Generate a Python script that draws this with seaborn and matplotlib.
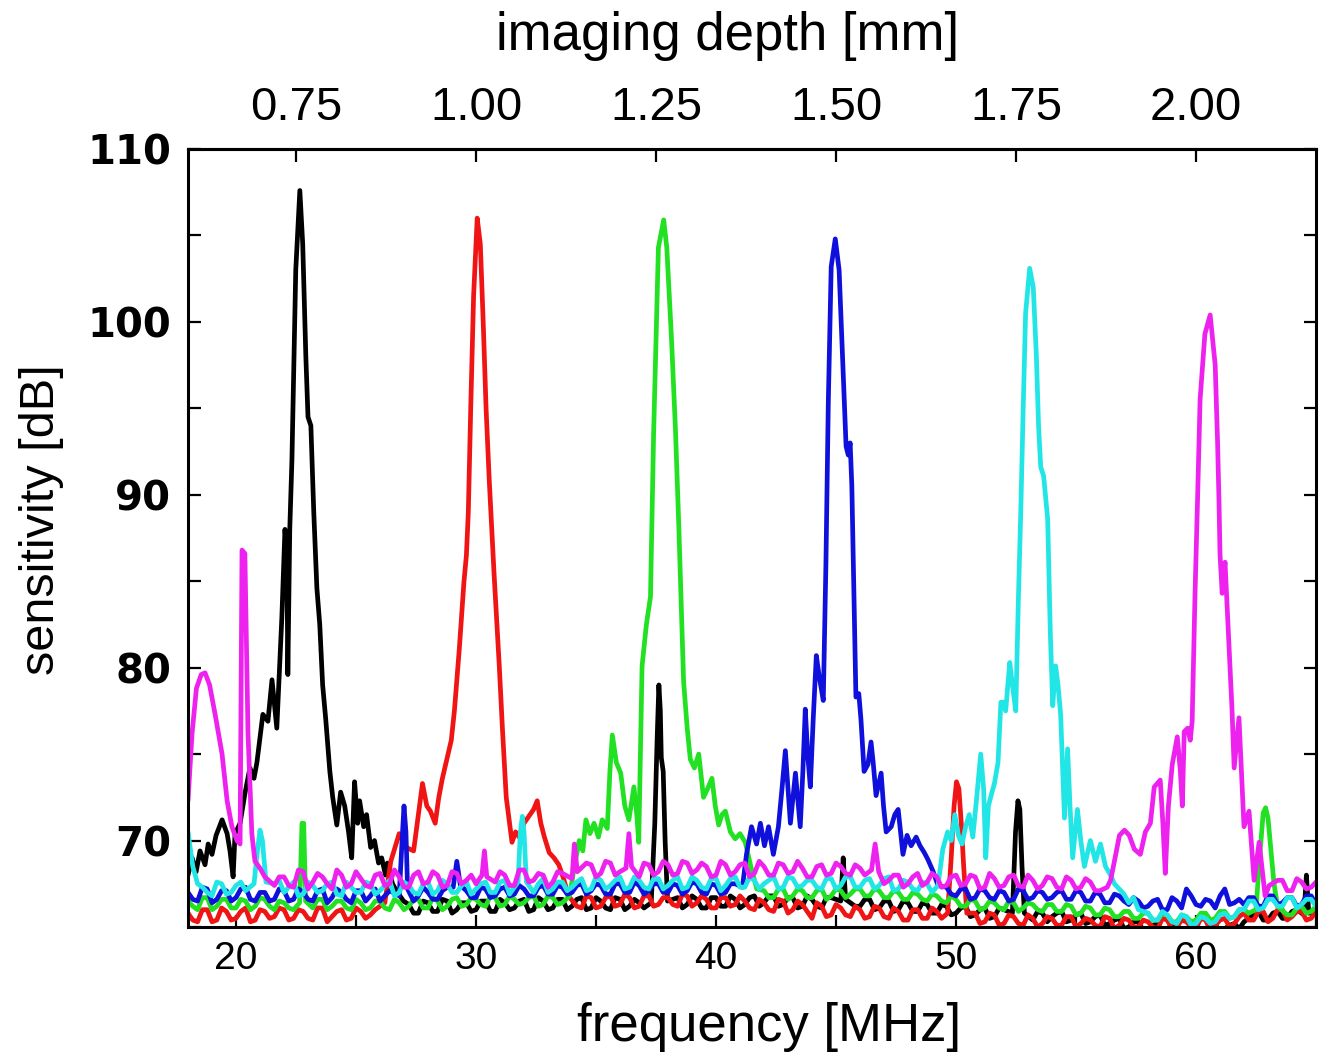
import numpy as np
import pandas as pd
import matplotlib
matplotlib.use("Agg")
import matplotlib.pyplot as plt
import seaborn as sns
from matplotlib.ticker import MultipleLocator, FormatStrFormatter, FixedLocator
from matplotlib import font_manager

# ---------------- data ----------------
# baseline sampling frequencies [MHz]
grid_f = [
    18.0, 18.4, 18.8, 19.2, 19.6, 20.0, 20.4, 20.8, 21.2, 21.6,
    22.0, 22.4, 22.8, 23.2, 23.6, 24.0, 24.4, 24.8, 25.2, 25.6,
    26.0, 26.4, 26.8, 27.2, 27.6, 28.0, 28.4, 28.8, 29.2, 29.6,
    30.0, 30.4, 30.8, 31.2, 31.6, 32.0, 32.4, 32.8, 33.2, 33.6,
    34.0, 34.4, 34.8, 35.2, 35.6, 36.0, 36.4, 36.8, 37.2, 37.6,
    38.0, 38.4, 38.8, 39.2, 39.6, 40.0, 40.4, 40.8, 41.2, 41.6,
    42.0, 42.4, 42.8, 43.2, 43.6, 44.0, 44.4, 44.8, 45.2, 45.6,
    46.0, 46.4, 46.8, 47.2, 47.6, 48.0, 48.4, 48.8, 49.2, 49.6,
    50.0, 50.4, 50.8, 51.2, 51.6, 52.0, 52.4, 52.8, 53.2, 53.6,
    54.0, 54.4, 54.8, 55.2, 55.6, 56.0, 56.4, 56.8, 57.2, 57.6,
    58.0, 58.4, 58.8, 59.2, 59.6, 60.0, 60.4, 60.8, 61.2, 61.6,
    62.0, 62.4, 62.8, 63.2, 63.6, 64.0, 64.4, 64.8, 65.2]
grid_f2 = [
    18.2, 18.6, 19.0, 19.4, 19.8, 20.2, 20.6, 21.0, 21.4, 21.8,
    22.2, 22.6, 23.0, 23.4, 23.8, 24.2, 24.6, 25.0, 25.4, 25.8,
    26.2, 26.6, 27.0, 27.4, 27.8, 28.2, 28.6, 29.0, 29.4, 29.8,
    30.2, 30.6, 31.0, 31.4, 31.8, 32.2, 32.6, 33.0, 33.4, 33.8,
    34.2, 34.6, 35.0, 35.4, 35.8, 36.2, 36.6, 37.0, 37.4, 37.8,
    38.2, 38.6, 39.0, 39.4, 39.8, 40.2, 40.6, 41.0, 41.4, 41.8,
    42.2, 42.6, 43.0, 43.4, 43.8, 44.2, 44.6, 45.0, 45.4, 45.8,
    46.2, 46.6, 47.0, 47.4, 47.8, 48.2, 48.6, 49.0, 49.4, 49.8,
    50.2, 50.6, 51.0, 51.4, 51.8, 52.2, 52.6, 53.0, 53.4, 53.8,
    54.2, 54.6, 55.0, 55.4, 55.8, 56.2, 56.6, 57.0, 57.4, 57.8,
    58.2, 58.6, 59.0, 59.4, 59.8, 60.2, 60.6, 61.0, 61.4, 61.8,
    62.2, 62.6, 63.0, 63.4, 63.8, 64.2, 64.6, 65.0]

# baseline noise levels [dB] on grid_f
black_base = [
    66.2, 65.8, 66.3, 65.9, 66.2, 65.8, 66.3, 65.9, 66.2, 65.8,
    66.3, 65.9, 66.2, 65.8, 66.3, 65.9, 66.2, 65.8, 66.3, 65.9,
    66.2, 65.8, 66.3, 66.3, 65.8, 66.4, 65.9, 66.5, 66.0, 66.4,
    66.0, 66.5, 65.9, 66.4, 66.1, 66.6, 66.0, 66.5, 66.1, 66.6,
    66.2, 66.7, 66.1, 66.5, 66.0, 66.6, 66.2, 66.4, 66.0, 66.6,
    66.2, 66.7, 66.3, 66.6, 66.1, 66.7, 66.2, 66.6, 66.3, 66.8,
    66.4, 66.8, 66.3, 66.7, 66.2, 66.6, 66.1, 66.7, 66.3, 66.6,
    66.2, 66.6, 66.1, 66.5, 66.0, 66.4, 65.9, 66.3, 65.8, 66.2,
    65.8, 66.2, 65.7, 66.1, 65.6, 66.0, 65.5, 65.9, 65.4, 65.8,
    65.6, 65.9, 65.4, 65.8, 65.3, 65.7, 65.2, 65.5, 65.0, 65.3,
    64.9, 65.2, 64.8, 65.1, 64.7, 65.0, 64.8, 65.1, 64.9, 65.2,
    65.3, 65.7, 65.4, 65.8, 65.5, 65.9, 65.6, 66.0, 65.7]
red_base = [
    65.8, 65.3, 66.0, 65.4, 65.9, 65.5, 66.1, 65.4, 65.9, 65.6,
    66.0, 65.5, 65.9, 65.4, 66.1, 65.6, 66.0, 65.5, 65.9, 65.7,
    66.0, 65.6, 66.2, 66.0, 66.0, 66.0, 66.0, 66.0, 66.0, 66.0,
    66.0, 66.0, 66.0, 66.0, 66.0, 66.0, 66.0, 66.0, 66.0, 66.3,
    66.6, 66.1, 66.7, 66.2, 66.8, 66.3, 66.7, 66.2, 66.8, 66.3,
    66.7, 66.2, 66.8, 66.4, 66.6, 66.1, 66.7, 66.3, 66.5, 66.0,
    66.4, 65.9, 66.5, 66.0, 66.3, 65.5, 66.2, 65.7, 66.1, 65.6,
    66.0, 65.6, 66.1, 65.5, 65.9, 65.4, 66.0, 65.5, 65.9, 65.6,
    65.9, 65.5, 65.8, 65.3, 65.7, 65.2, 65.6, 65.1, 65.5, 65.2,
    65.5, 65.1, 65.6, 65.2, 65.4, 65.0, 65.5, 65.1, 65.4, 65.0,
    65.3, 64.9, 65.4, 65.0, 65.3, 64.9, 65.4, 65.1, 65.5, 65.2,
    65.8, 65.4, 65.9, 65.5, 66.0, 65.6, 65.9, 65.5, 65.8]
green_base = [
    66.5, 66.0, 66.7, 66.2, 66.6, 66.1, 66.5, 66.2, 66.6, 66.0,
    66.4, 66.0, 66.5, 66.1, 66.6, 66.2, 66.5, 66.0, 66.4, 66.1,
    66.5, 66.0, 66.4, 66.2, 66.6, 66.1, 66.5, 66.2, 66.7, 66.3,
    66.6, 66.2, 66.7, 66.3, 66.6, 66.4, 66.8, 66.3, 66.7, 66.4,
    66.8, 66.4, 66.9, 66.5, 66.8, 66.5, 66.9, 66.6, 66.8, 66.5,
    66.9, 66.5, 66.8, 66.6, 66.9, 66.5, 67.0, 66.6, 66.9, 66.6,
    67.1, 66.7, 67.2, 66.8, 67.1, 66.7, 67.2, 66.8, 67.1, 66.9,
    67.2, 66.8, 67.1, 66.7, 67.0, 66.6, 66.9, 66.5, 66.8, 66.4,
    66.6, 66.2, 66.5, 66.1, 66.4, 66.0, 66.4, 66.1, 66.3, 65.9,
    66.3, 65.9, 66.2, 65.8, 66.1, 65.7, 66.0, 65.6, 65.9, 65.5,
    65.8, 65.4, 65.7, 65.3, 65.6, 65.4, 65.8, 65.5, 65.9, 65.6,
    66.0, 66.2, 66.0, 65.8, 66.1, 65.7, 66.2, 65.9, 66.1]
blue_base = [
    67.0, 66.5, 67.2, 66.6, 67.1, 66.7, 67.3, 66.5, 67.0, 66.6,
    67.1, 66.6, 67.0, 66.5, 67.2, 66.7, 67.0, 66.4, 67.1, 66.8,
    66.5, 67.1, 66.7, 67.2, 66.8, 67.0, 66.6, 67.3, 66.8, 67.1,
    66.7, 67.2, 66.8, 67.3, 66.9, 67.2, 66.8, 67.4, 66.9, 67.3,
    67.0, 67.5, 67.1, 67.4, 66.9, 67.5, 67.0, 67.4, 67.1, 67.5,
    67.0, 67.4, 67.1, 67.5, 66.9, 67.4, 67.0, 67.5, 67.1, 67.4,
    67.0, 67.4, 67.0, 67.5, 67.1, 67.4, 67.0, 67.4, 67.1, 67.5,
    67.0, 67.4, 67.0, 67.5, 67.0, 67.3, 66.9, 67.4, 67.0, 67.3,
    66.8, 67.2, 66.7, 67.1, 66.6, 67.0, 66.6, 67.1, 66.7, 67.0,
    66.7, 67.1, 66.6, 67.0, 66.5, 66.9, 66.4, 66.8, 66.3, 66.5,
    66.2, 66.6, 66.0, 66.5, 67.2, 66.3, 66.6, 66.1, 67.2, 66.4,
    66.3, 66.7, 66.2, 66.8, 66.4, 66.7, 66.3, 66.8, 66.5]
cyan_base = [
    70.5, 67.5, 67.0, 67.6, 66.9, 67.4, 67.1, 67.7, 67.0, 67.5,
    67.0, 67.6, 66.9, 67.4, 67.1, 67.6, 66.8, 67.3, 67.0, 67.5,
    67.1, 67.7, 67.0, 67.4, 66.9, 67.6, 67.1, 67.5, 67.0, 67.6,
    67.2, 67.6, 67.0, 67.7, 67.1, 67.5, 67.0, 67.8, 67.2, 67.6,
    67.3, 67.8, 67.2, 67.7, 67.4, 67.9, 67.3, 67.7, 67.2, 67.8,
    67.4, 67.9, 67.3, 67.7, 67.2, 67.8, 67.4, 67.9, 67.3, 67.7,
    67.5, 67.9, 67.3, 67.8, 67.4, 67.7, 67.2, 67.8, 67.4, 67.9,
    67.3, 67.8, 67.4, 67.9, 67.2, 67.6, 67.1, 67.5, 67.2, 67.6,
    67.0, 67.5, 67.1, 67.4, 67.0, 67.3, 67.0, 67.4, 67.1, 67.3,
    67.0, 67.3, 66.9, 67.2, 67.0, 67.3, 67.1, 67.2, 66.4, 66.0,
    65.8, 65.4, 65.7, 65.2, 65.6, 65.2, 65.5, 65.3, 65.8, 65.6,
    66.0, 66.5, 66.1, 66.6, 66.2, 66.7, 66.3, 66.6, 66.4]
magenta_base = [
    68.0, 68.3, 67.9, 68.4, 68.0, 67.8, 68.2, 67.5, 68.1, 67.4,
    67.9, 67.3, 68.2, 67.6, 67.9, 67.2, 68.0, 67.5, 67.8, 67.3,
    68.1, 67.5, 67.9, 67.3, 68.2, 67.6, 68.0, 67.4, 68.1, 67.7,
    67.5, 68.2, 67.6, 68.0, 67.4, 68.3, 67.7, 68.0, 67.6, 68.1,
    68.5, 68.0, 68.6, 68.1, 68.7, 68.2, 68.5, 67.9, 68.6, 68.2,
    68.6, 68.1, 68.7, 68.3, 68.5, 68.0, 68.6, 68.2, 68.7, 68.1,
    68.5, 68.0, 68.6, 68.2, 68.4, 67.9, 68.6, 68.1, 68.5, 68.0,
    68.4, 68.0, 68.3, 67.7, 68.0, 67.5, 68.1, 67.6, 67.9, 67.4,
    68.0, 67.5, 67.9, 67.3, 67.8, 67.4, 68.0, 67.3, 67.7, 67.4,
    67.8, 67.2, 67.7, 67.3, 67.6, 67.1, 67.5, 67.0, 67.4, 67.0,
    67.3, 67.0, 67.4, 67.1, 67.2, 67.0, 67.3, 67.1, 67.2, 67.0,
    67.5, 67.0, 67.6, 67.2, 67.7, 67.1, 67.6, 67.3, 67.5]

# baseline noise levels [dB] on grid_f2
black_base2 = [
    66.0, 66.1, 66.0, 66.1, 66.0, 66.1, 66.0, 66.1, 66.0, 66.1,
    66.0, 66.1, 66.0, 66.1, 66.0, 66.1, 66.0, 66.1, 66.0, 66.1,
    66.0, 66.1, 66.0, 65.8, 66.5, 65.9, 66.6, 65.8, 66.4, 65.9,
    66.5, 65.9, 66.6, 66.0, 66.5, 65.9, 66.7, 66.0, 66.6, 66.0,
    66.6, 66.0, 66.7, 66.1, 66.7, 66.0, 66.6, 66.1, 66.7, 66.1,
    66.6, 66.1, 66.8, 66.1, 66.7, 66.2, 66.8, 66.1, 66.7, 66.2,
    66.8, 66.2, 66.7, 66.1, 66.8, 66.2, 66.7, 66.1, 66.8, 66.2,
    66.6, 66.0, 66.5, 65.9, 66.5, 65.9, 66.4, 65.8, 66.3, 65.7,
    66.1, 65.6, 66.0, 65.5, 66.1, 65.4, 65.9, 65.4, 65.9, 65.3,
    65.8, 65.3, 65.7, 65.2, 65.6, 65.1, 65.4, 64.9, 65.3, 64.8,
    65.1, 64.7, 65.2, 64.8, 65.1, 64.7, 65.2, 64.8, 65.1, 64.9,
    65.5, 65.9, 65.4, 65.9, 65.5, 66.0, 65.6, 65.8]
red_base2 = [
    65.4, 66.0, 65.3, 66.1, 65.4, 65.9, 65.3, 66.0, 65.5, 66.1,
    65.4, 66.0, 65.5, 66.1, 65.3, 65.9, 65.4, 66.1, 65.5, 66.0,
    66.0, 66.0, 66.0, 66.0, 66.0, 66.0, 66.0, 66.0, 66.0, 66.0,
    66.0, 66.0, 66.0, 66.0, 66.0, 66.0, 66.0, 66.0, 66.0, 66.0,
    66.2, 66.8, 66.1, 66.7, 66.2, 66.9, 66.1, 66.8, 66.2, 66.7,
    66.3, 66.9, 66.2, 66.8, 66.1, 66.7, 66.2, 66.8, 66.1, 66.6,
    66.0, 66.6, 65.8, 66.5, 65.9, 66.4, 65.6, 66.3, 65.7, 66.2,
    65.5, 66.2, 65.6, 66.1, 65.4, 66.0, 65.5, 66.1, 65.5, 66.0,
    65.4, 65.9, 65.2, 65.8, 65.1, 65.7, 65.2, 65.7, 65.0, 65.6,
    65.1, 65.6, 65.0, 65.5, 65.1, 65.6, 64.9, 65.5, 65.0, 65.4,
    65.0, 65.5, 64.9, 65.4, 65.0, 65.5, 64.8, 65.4, 65.0, 65.6,
    65.4, 65.9, 65.3, 66.0, 65.4, 65.9, 65.4, 65.9]
green_base2 = [
    66.2, 66.7, 66.0, 66.6, 66.1, 66.6, 66.0, 66.7, 66.2, 66.5,
    66.1, 66.6, 66.0, 66.6, 66.0, 66.5, 66.1, 66.6, 66.0, 66.5,
    66.1, 66.6, 66.0, 66.6, 66.1, 66.7, 66.0, 66.6, 66.2, 66.7,
    66.3, 66.8, 66.2, 66.8, 66.3, 66.7, 66.2, 66.8, 66.3, 66.8,
    66.4, 66.9, 66.3, 66.8, 66.4, 66.9, 66.3, 66.9, 66.4, 66.8,
    66.4, 66.9, 66.5, 66.9, 66.4, 67.0, 66.5, 66.9, 66.5, 67.0,
    66.7, 67.2, 66.6, 67.2, 66.7, 67.1, 66.6, 67.2, 66.7, 67.2,
    66.8, 67.2, 66.7, 67.1, 66.6, 67.0, 66.6, 66.9, 66.5, 66.8,
    66.2, 66.6, 66.0, 66.5, 66.1, 66.5, 65.9, 66.4, 66.0, 66.3,
    65.9, 66.3, 65.7, 66.2, 65.7, 66.1, 65.6, 65.9, 65.5, 65.8,
    65.4, 65.8, 65.3, 65.7, 65.3, 65.8, 65.4, 65.9, 65.5, 66.0,
    65.8, 66.1, 65.7, 66.2, 65.7, 66.1, 65.8, 66.2]
blue_base2 = [
    66.6, 67.3, 66.4, 67.1, 66.5, 67.2, 66.6, 67.0, 66.5, 67.2,
    66.5, 67.2, 66.6, 67.1, 66.4, 67.2, 66.6, 67.1, 66.5, 67.2,
    66.8, 66.5, 67.2, 66.5, 67.3, 66.6, 67.1, 66.6, 67.2, 66.7,
    67.3, 66.7, 67.2, 66.8, 67.4, 66.8, 67.3, 66.9, 67.4, 66.9,
    67.4, 66.9, 67.5, 66.9, 67.5, 67.0, 67.6, 66.9, 67.5, 67.0,
    67.5, 66.9, 67.6, 67.0, 67.5, 66.9, 67.5, 67.0, 67.6, 67.0,
    67.5, 66.9, 67.5, 67.0, 67.6, 66.9, 67.5, 67.0, 67.5, 66.9,
    67.5, 67.0, 67.4, 66.9, 67.5, 67.0, 67.4, 66.9, 67.4, 66.9,
    67.2, 66.6, 67.2, 66.7, 67.1, 66.5, 67.2, 66.6, 67.1, 66.6,
    67.0, 66.6, 67.1, 66.5, 67.0, 66.4, 66.9, 66.5, 66.7, 66.1,
    66.5, 66.0, 66.7, 66.1, 66.8, 66.2, 66.5, 66.8, 66.3, 66.6,
    66.7, 66.2, 66.8, 66.3, 66.7, 66.2, 66.8, 66.3]
cyan_base2 = [
    68.5, 67.3, 66.8, 67.5, 67.0, 67.6, 66.8, 67.4, 66.9, 67.7,
    67.3, 66.8, 67.6, 67.0, 67.5, 66.9, 67.6, 67.0, 67.6, 66.9,
    67.4, 66.8, 67.6, 67.0, 67.5, 66.9, 67.7, 67.0, 67.4, 66.9,
    67.5, 67.0, 67.6, 66.9, 67.7, 67.1, 67.5, 67.0, 67.6, 67.1,
    67.6, 67.1, 67.9, 67.2, 67.7, 67.2, 67.9, 67.3, 67.8, 67.2,
    67.7, 67.2, 67.9, 67.3, 67.8, 67.1, 67.8, 67.3, 67.9, 67.2,
    67.7, 67.2, 67.9, 67.3, 67.7, 67.3, 67.8, 67.2, 67.9, 67.3,
    67.7, 67.2, 67.8, 67.1, 67.7, 67.2, 67.6, 67.0, 67.5, 67.1,
    67.3, 67.0, 67.5, 67.0, 67.3, 67.1, 67.4, 67.0, 67.3, 67.0,
    67.4, 67.0, 67.3, 66.8, 67.2, 67.0, 67.4, 66.9, 66.7, 65.9,
    65.4, 65.9, 65.3, 65.7, 65.1, 65.6, 65.2, 65.7, 65.5, 66.0,
    66.5, 66.0, 66.6, 66.2, 66.7, 66.1, 66.6, 66.2]
magenta_base2 = [
    68.4, 67.6, 68.5, 67.7, 68.3, 67.9, 68.5, 67.6, 68.2, 67.9,
    67.4, 68.3, 67.2, 68.1, 67.5, 68.3, 67.3, 68.2, 67.4, 68.0,
    67.4, 68.3, 67.3, 68.0, 67.5, 68.2, 67.3, 68.2, 67.5, 68.0,
    68.1, 67.3, 68.2, 67.4, 68.3, 67.6, 68.1, 67.3, 68.2, 67.6,
    68.0, 68.7, 67.9, 68.8, 68.0, 68.6, 68.0, 68.7, 68.0, 68.8,
    68.0, 68.8, 68.1, 68.7, 67.9, 68.8, 68.0, 68.6, 67.9, 68.8,
    68.0, 68.7, 68.1, 68.8, 67.9, 68.5, 68.0, 68.7, 68.1, 68.6,
    68.0, 68.6, 67.5, 68.0, 67.3, 67.9, 67.4, 68.1, 67.3, 67.9,
    67.4, 68.0, 67.2, 68.1, 67.3, 67.9, 67.4, 68.0, 67.2, 67.9,
    67.3, 67.9, 67.2, 67.8, 67.1, 67.7, 67.2, 67.6, 67.0, 67.5,
    67.0, 67.5, 67.0, 67.4, 67.1, 67.5, 67.0, 67.4, 67.1, 67.3,
    67.3, 67.6, 67.0, 67.7, 67.1, 67.8, 67.2, 67.6]

# resonance peaks and spikes (frequency [MHz], sensitivity [dB])
black_pk_f = [18.0, 18.17, 18.34, 18.5, 18.71, 18.84, 19.0, 19.17, 19.42, 19.63,
              19.75, 19.88, 19.96, 20.17, 20.37, 20.58, 20.75, 20.87, 21.12, 21.33,
              21.5, 21.7, 21.91, 22.04, 22.12, 22.16, 22.24, 22.33, 22.49, 22.66,
              22.78, 22.91, 23.0, 23.12, 23.24, 23.37, 23.49, 23.61, 23.74, 23.91,
              24.03, 24.2, 24.36, 24.53, 24.69, 24.82, 24.94, 25.07, 25.15, 25.32,
              25.44, 25.61, 25.77, 25.94, 26.07, 26.23, 26.31, 26.52, 26.73, 26.98,
              37.3, 37.45, 37.55, 37.62, 37.68, 37.72, 37.8, 37.88, 37.98,
              45.2, 45.3, 45.4,
              52.35, 52.48, 52.58, 52.66, 52.75, 52.85,
              64.5, 64.6, 64.7]
black_pk_db = [68.0, 69.0, 68.2, 69.4, 68.6, 69.8, 69.2, 70.3, 71.2, 70.4,
               69.4, 67.9, 70.4, 71.0, 72.7, 74.2, 73.6, 74.5, 77.3, 76.9,
               79.3, 76.5, 82.9, 88.0, 86.5, 79.6, 88.0, 92.0, 103.0, 107.6,
               104.5, 98.0, 94.5, 94.0, 89.0, 84.6, 82.5, 79.0, 77.0, 74.0,
               72.5, 70.9, 72.8, 72.0, 70.5, 69.0, 73.4, 71.0, 72.3, 70.8,
               71.5, 69.6, 70.0, 68.7, 69.0, 68.0, 68.7, 67.5, 67.0, 66.5,
               66.4, 71.0, 76.0, 79.0, 77.5, 74.8, 74.0, 70.0, 66.5,
               66.5, 69.0, 66.6,
               65.8, 70.5, 72.3, 71.8, 68.5, 65.8,
               65.7, 68.0, 65.8]

red_pk_f = [26.2, 26.45, 26.8, 27.1, 27.4, 27.6, 27.77, 27.95, 28.1, 28.3,
            28.45, 28.6, 28.8, 28.97, 29.1, 29.3, 29.5, 29.6, 29.68, 29.78,
            29.9, 30.05, 30.18, 30.3, 30.42, 30.55, 30.75, 30.97, 31.1, 31.26,
            31.38, 31.5, 31.65, 31.8, 32.0, 32.2, 32.4, 32.55, 32.7, 32.85,
            33.05, 33.25, 33.45, 33.65, 33.85,
            49.65, 49.8, 49.92, 50.02, 50.12, 50.22, 50.32, 50.45]
red_pk_db = [66.4, 68.8, 70.4, 69.6, 69.4, 71.5, 73.3, 72.0, 71.7, 71.0,
             72.5, 73.6, 74.8, 75.8, 77.5, 81.0, 85.0, 86.5, 89.0, 95.0,
             101.5, 106.0, 104.5, 100.0, 95.0, 90.9, 85.5, 80.1, 76.5, 72.5,
             71.2, 69.9, 70.5, 70.2, 71.0, 71.4, 71.8, 72.3, 71.0, 70.2,
             69.3, 69.0, 68.6, 67.8, 66.8,
             65.8, 69.0, 72.0, 73.4, 73.0, 71.0, 68.5, 65.8]

green_pk_f = [22.65, 22.75, 22.82, 22.9,
              33.9, 34.1, 34.3, 34.45, 34.58, 34.75, 34.92, 35.1, 35.26, 35.47,
              35.58, 35.68, 35.85, 36.03, 36.2, 36.37, 36.58, 36.7, 36.78, 36.92,
              37.1, 37.27, 37.4, 37.6, 37.82, 37.95, 38.15, 38.31, 38.45, 38.65,
              38.8, 38.93, 39.1, 39.28, 39.48, 39.65, 39.83, 39.97, 40.11, 40.25,
              40.39, 40.6, 40.8, 41.0, 41.22, 41.45, 41.7,
              62.5, 62.65, 62.8, 62.9, 63.0, 63.12, 63.25, 63.4]
green_pk_db = [66.4, 71.0, 71.0, 66.5,
               66.8, 68.5, 70.0, 69.4, 71.2, 70.4, 71.0, 70.2, 71.2, 70.7,
               74.0, 76.1, 74.5, 73.9, 72.0, 71.2, 73.1, 71.5, 69.9, 80.1,
               82.5, 84.1, 93.5, 104.3, 105.9, 104.3, 98.9, 93.8, 88.2, 79.2,
               76.5, 74.7, 74.2, 75.0, 72.5, 73.0, 73.6, 72.0, 70.9, 71.5,
               71.7, 70.5, 70.1, 70.4, 69.9, 68.5, 67.2,
               66.0, 69.0, 71.6, 71.9, 71.3, 69.5, 67.5, 66.2]

blue_pk_f = [26.8, 26.92, 27.0, 27.08, 27.15,
             29.05, 29.2, 29.35,
             41.1, 41.27, 41.48, 41.69, 41.85, 42.02, 42.19, 42.39, 42.6, 42.75,
             42.89, 43.0, 43.1, 43.31, 43.51, 43.62, 43.72, 43.82, 43.93, 44.05,
             44.18, 44.3, 44.47, 44.58, 44.68, 44.8, 44.97, 45.13, 45.3, 45.42,
             45.51, 45.59, 45.66, 45.75, 45.83, 45.95, 46.04, 46.17, 46.33, 46.46,
             46.55, 46.67, 46.88, 46.98, 47.09, 47.3, 47.45, 47.59, 47.79, 47.96,
             48.13, 48.34, 48.5, 48.68, 48.83, 49.05, 49.25]
blue_pk_db = [66.8, 70.0, 72.0, 70.5, 67.2,
              67.3, 68.8, 67.4,
              67.3, 69.2, 70.8, 69.8, 71.0, 69.7, 70.8, 69.2, 70.8, 73.0,
              75.2, 73.0, 71.0, 73.9, 70.8, 74.0, 77.6, 75.0, 73.1, 77.0,
              80.7, 79.5, 78.1, 86.0, 95.4, 103.2, 104.8, 103.0, 97.0, 92.8,
              92.3, 93.0, 90.5, 84.0, 78.3, 78.5, 77.0, 74.0, 74.4, 75.7,
              74.5, 72.6, 73.9, 72.0, 70.5, 70.8, 71.5, 71.8, 69.2, 70.3,
              69.7, 70.2, 69.7, 69.3, 68.9, 68.2, 67.4]

cyan_pk_f = [20.75, 20.9, 21.0, 21.1, 21.25,
             31.75, 31.85, 31.93, 32.0, 32.1,
             49.25, 49.45, 49.65, 49.8, 49.95, 50.1, 50.25, 50.4, 50.55, 50.7,
             50.85, 51.03, 51.15, 51.24, 51.35, 51.5, 51.6, 51.75, 51.87, 52.0,
             52.07, 52.24, 52.35, 52.49, 52.6, 52.7, 52.8, 52.9, 53.07, 53.22,
             53.35, 53.44, 53.53, 53.65, 53.82, 53.93, 54.03, 54.15, 54.25, 54.36,
             54.45, 54.52, 54.65, 54.75, 54.86, 55.06, 55.2, 55.35, 55.6, 55.81,
             56.02, 56.23, 56.44, 56.6]
cyan_pk_db = [67.5, 69.5, 70.6, 70.0, 67.6,
              67.6, 70.5, 71.4, 70.5, 67.6,
              67.4, 69.5, 70.5, 70.0, 71.5, 70.3, 69.8, 70.8, 71.5, 70.2,
              72.3, 75.0, 73.0, 69.0, 72.0, 72.8, 73.3, 74.5, 78.0, 78.0,
              77.5, 80.3, 79.0, 77.5, 84.0, 89.1, 95.0, 100.5, 103.1, 102.0,
              98.0, 94.0, 91.6, 91.1, 88.6, 82.0, 77.8, 80.1, 79.0, 77.3,
              74.0, 71.3, 75.3, 72.0, 69.0, 71.8, 70.0, 68.5, 70.0, 68.8,
              69.8, 68.5, 68.0, 67.5]

magenta_pk_f = [18.0, 18.17, 18.35, 18.55, 18.71, 18.9, 19.13, 19.42, 19.63, 19.83,
                20.04, 20.17, 20.25, 20.37, 20.5, 20.66, 20.79, 21.0, 21.2,
                30.25, 30.35, 30.45,
                34.0, 34.1, 34.22,
                36.25, 36.37, 36.48,
                46.48, 46.63, 46.78,
                56.3, 56.44, 56.6, 56.81, 57.02, 57.22, 57.43, 57.68, 57.89, 58.1,
                58.26, 58.51, 58.62, 58.72, 58.85, 59.01, 59.22, 59.35, 59.43, 59.51,
                59.65, 59.76, 59.84, 59.96, 60.07, 60.17, 60.37, 60.59, 60.8, 60.9,
                60.96, 61.0, 61.09, 61.21, 61.35, 61.5, 61.59, 61.79, 62.0, 62.21,
                62.42, 62.63, 62.88, 63.05]
magenta_pk_db = [72.3, 76.2, 78.8, 79.6, 79.7, 79.0, 77.3, 75.0, 72.3, 70.8,
                 70.0, 69.8, 86.8, 86.6, 76.2, 70.4, 68.8, 68.4, 67.9,
                 68.0, 69.4, 67.9,
                 67.8, 69.8, 68.2,
                 68.4, 70.4, 68.5,
                 68.3, 69.8, 68.2,
                 67.3, 67.7, 68.8, 70.3, 70.6, 70.3, 69.5, 69.2, 70.5, 71.0,
                 73.1, 73.5, 71.0, 68.1, 72.0, 74.4, 76.0, 74.0, 72.0, 76.3,
                 76.5, 75.8, 76.9, 84.3, 90.0, 95.5, 99.3, 100.4, 97.5, 93.0,
                 89.5, 86.6, 84.3, 86.1, 82.0, 77.6, 74.2, 77.1, 70.8, 71.7,
                 67.7, 69.9, 66.8, 67.4]

curve_names = ["black", "red", "green", "blue", "cyan", "magenta"]
curve_colors = ["#000000", "#f01414", "#22e022", "#1010dc", "#22e6e6", "#ee22ee"]
depth_ticks = [0.75, 1.00, 1.25, 1.50, 1.75, 2.00]

series = {
    "black": (black_base, black_base2, black_pk_f, black_pk_db),
    "red": (red_base, red_base2, red_pk_f, red_pk_db),
    "green": (green_base, green_base2, green_pk_f, green_pk_db),
    "blue": (blue_base, blue_base2, blue_pk_f, blue_pk_db),
    "cyan": (cyan_base, cyan_base2, cyan_pk_f, cyan_pk_db),
    "magenta": (magenta_base, magenta_base2, magenta_pk_f, magenta_pk_db),
}


def merge(base, base2, pk_f, pk_db):
    assert len(grid_f) == len(base) and len(grid_f2) == len(base2)
    assert len(pk_f) == len(pk_db)
    gf = np.asarray(grid_f + grid_f2, float)
    gb = np.asarray(list(base) + list(base2), float)
    pf = np.asarray(pk_f, float)
    pb = np.asarray(pk_db, float)
    d = np.abs(gf[:, None] - pf[None, :]).min(axis=1)
    keep = d > 0.21
    f = np.concatenate([gf[keep], pf])
    v = np.concatenate([gb[keep], pb])
    o = np.argsort(f, kind="stable")
    return f[o], v[o]


frames = []
for name in curve_names:
    f, v = merge(*series[name])
    frames.append(pd.DataFrame({"freq": f, "db": v, "curve": name}))
df = pd.concat(frames, ignore_index=True)

# ---------------- styling ----------------
sns.set_style("ticks")
names = {fe.name for fe in font_manager.fontManager.ttflist}
narrow = "Liberation Sans Narrow" if "Liberation Sans Narrow" in names else "Liberation Sans"
plt.rcParams["font.family"] = ["Liberation Sans", "DejaVu Sans"]
for key in ["text.color", "axes.labelcolor", "xtick.color", "ytick.color", "axes.edgecolor"]:
    plt.rcParams[key] = "black"

fig = plt.figure(figsize=(13.28, 10.57), dpi=100)
ax = fig.add_axes([188 / 1328, 1 - 927 / 1057, (1316 - 188) / 1328, (927 - 149) / 1057])

sns.lineplot(data=df, x="freq", y="db", hue="curve", hue_order=curve_names,
             palette=dict(zip(curve_names, curve_colors)), estimator=None,
             sort=True, linewidth=3.4, legend=False, ax=ax)

ax.set_xlim(18, 65)
ax.set_ylim(65, 110)

for sp in ax.spines.values():
    sp.set_linewidth(2.2)
    sp.set_color("black")

ax.xaxis.set_major_locator(MultipleLocator(10))
ax.xaxis.set_minor_locator(MultipleLocator(5))
ax.yaxis.set_major_locator(MultipleLocator(10))
ax.yaxis.set_minor_locator(MultipleLocator(5))
ax.tick_params(axis="both", which="both", direction="in", length=9, width=1.6,
               color="black", labelcolor="black", top=False, right=True)
ax.tick_params(axis="y", which="major", pad=12)
ax.tick_params(axis="x", which="major", pad=10)

for lab in ax.get_yticklabels():
    lab.set_fontfamily("DejaVu Sans")
    lab.set_fontweight("bold")
    lab.set_fontsize(29)
for lab in ax.get_xticklabels():
    lab.set_fontfamily(narrow)
    lab.set_fontsize(31 if narrow != "Liberation Sans" else 28)

secax = ax.secondary_xaxis("top", functions=(lambda f: f / 30.0, lambda d: d * 30.0))
secax.xaxis.set_major_locator(FixedLocator(depth_ticks))
secax.xaxis.set_major_formatter(FormatStrFormatter("%.2f"))
secax.tick_params(axis="x", which="major", direction="in", length=9, width=1.6, pad=14,
                  labelsize=34, color="black", labelcolor="black")
secax.tick_params(axis="x", which="minor", length=0)
secax.spines["top"].set_linewidth(2.2)

ax.set_xlabel("frequency [MHz]", fontsize=38)
ax.xaxis.set_label_coords((769 - 188) / 1128, (927 - 1027) / 778)
ax.xaxis.label.set_va("center")
ax.set_ylabel("sensitivity [dB]", fontsize=35)
ax.yaxis.set_label_coords((41 - 188) / 1128, (927 - 520) / 778)
ax.yaxis.label.set_va("center")
fig.text(728 / 1328, 1 - 36 / 1057, "imaging depth [mm]", fontsize=38,
         ha="center", va="center", color="black")

fig.savefig("out.png", dpi=100)
